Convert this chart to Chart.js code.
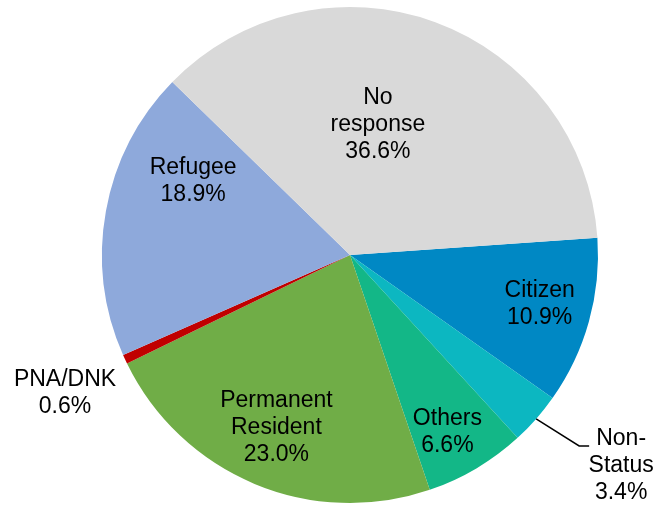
<!DOCTYPE html>
<html lang="en">
<head>
  <meta charset="UTF-8">
  <title>Status</title>
  <script src="https://cdn.jsdelivr.net/npm/chart.js"></script>
  <style>
    body {
      margin: 0;
      background: #ffffff;
    }
    #wrap {
      width: 659px;
      height: 506px;
      position: relative;
    }
  </style>
</head>
<body>
  <div id="wrap"><canvas id="pieChart"></canvas></div>

  <script>
    // Slices, clockwise from the Citizen slice
    const categories = ['Citizen', 'Non-Status', 'Others', 'Permanent Resident', 'PNA/DNK', 'Refugee', 'No response'];
    const shares = [10.9, 3.4, 6.6, 23.0, 0.6, 18.9, 36.6];
    const sliceColors = ['#0088C4', '#0CB7C1', '#13B787', '#70AD47', '#C00000', '#8EA9DB', '#D9D9D9'];

    // How each label is written and placed (line breaks, radial fraction, small nudge)
    const labelLines = [
      ['Citizen'],
      ['Non-', 'Status'],
      ['Others'],
      ['Permanent', 'Resident'],
      ['PNA/DNK'],
      ['Refugee'],
      ['No', 'response']
    ];
    const labelRadius = [0.79, 1.0, 0.81, 0.75, 1.0, 0.7, 0.55];
    const labelNudge = [[1, -4], [0, 0], [-5, 4], [-2, 1], [-60, 34], [14, -43], [-19, -2]];
    const leaderIndex = 1; // Non-Status gets a leader line

    const pieLabels = {
      id: 'pieLabels',
      afterDatasetsDraw(chart) {
        const ctx = chart.ctx;
        const meta = chart.getDatasetMeta(0);
        ctx.save();
        ctx.font = '23px "Liberation Sans", Arial, sans-serif';
        ctx.fillStyle = '#000000';
        ctx.textAlign = 'center';
        ctx.textBaseline = 'middle';
        const lh = 27;
        meta.data.forEach((arc, i) => {
          const mid = (arc.startAngle + arc.endAngle) / 2;
          const r = arc.outerRadius * labelRadius[i];
          let px = arc.x + Math.cos(mid) * r;
          let py = arc.y + Math.sin(mid) * r;
          const lines = labelLines[i].concat([shares[i].toFixed(1) + '%']);
          if (i === leaderIndex) {
            // elbow leader line from the slice edge
            const ex = arc.x + Math.cos(mid) * arc.outerRadius;
            const ey = arc.y + Math.sin(mid) * arc.outerRadius;
            ctx.strokeStyle = '#000000';
            ctx.lineWidth = 1.5;
            ctx.beginPath();
            ctx.moveTo(ex, ey);
            ctx.lineTo(ex + 43, ey + 27);
            ctx.lineTo(ex + 53, ey + 27);
            ctx.stroke();
            px = ex + 85;
            py = ey + 47;
          } else {
            px += labelNudge[i][0];
            py += labelNudge[i][1];
          }
          const top = py - (lines.length - 1) * lh / 2;
          lines.forEach((t, k) => ctx.fillText(t, px, top + k * lh));
        });
        ctx.restore();
      }
    };

    const ctx = document.getElementById('pieChart').getContext('2d');
    new Chart(ctx, {
      type: 'pie',
      data: {
        labels: categories,
        datasets: [{
          data: shares,
          backgroundColor: sliceColors,
          borderWidth: 0
        }]
      },
      options: {
        responsive: true,
        maintainAspectRatio: false,
        animation: false,
        rotation: 86,
        layout: {
          padding: { left: 102, right: 61, top: 7, bottom: 3 }
        },
        plugins: {
          legend: { display: false },
          tooltip: { enabled: false }
        }
      },
      plugins: [pieLabels]
    });
  </script>
</body>
</html>
